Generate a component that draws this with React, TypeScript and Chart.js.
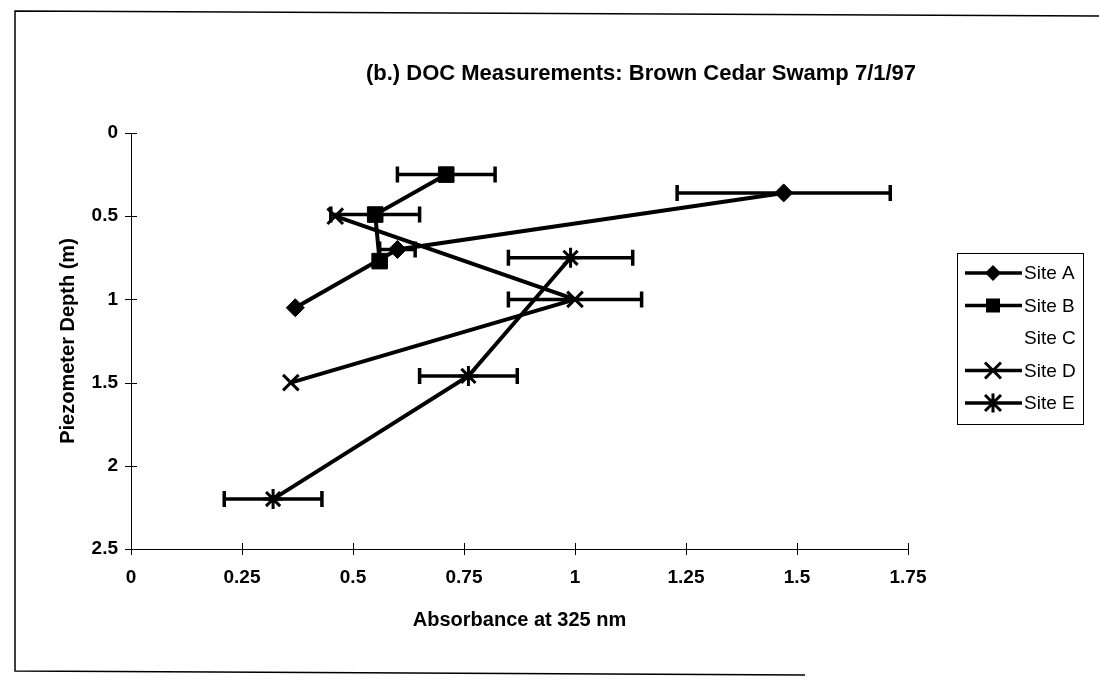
import React, { useEffect, useRef } from 'react';
import { Chart, registerables } from 'chart.js';

Chart.register(...registerables);

const FONT = '"Liberation Sans", Arial, Helvetica, sans-serif';

const chartTitle = '(b.) DOC Measurements: Brown Cedar Swamp 7/1/97';
const xAxisTitle = 'Absorbance at 325 nm';
const yAxisTitle = 'Piezometer Depth (m)';

const xTickValues = [0, 0.25, 0.5, 0.75, 1, 1.25, 1.5, 1.75];
const xTickLabels = ['0', '0.25', '0.5', '0.75', '1', '1.25', '1.5', '1.75'];
const yTickValues = [0, 0.5, 1, 1.5, 2, 2.5];
const yTickLabels = ['0', '0.5', '1', '1.5', '2', '2.5'];

const siteNames = ['Site A', 'Site B', 'Site C', 'Site D', 'Site E'];
const siteMarkers = ['rectRot', 'rect', 'none', 'crossRot', 'star'];

// absorbance (x), depth (y), horizontal error (±)
const siteAX = [1.47, 0.6, 0.37];
const siteAY = [0.36, 0.7, 1.05];
const siteAErr = [0.24, 0.04, 0];

const siteBX = [0.71, 0.55, 0.56];
const siteBY = [0.25, 0.49, 0.77];
const siteBErr = [0.11, 0.1, 0];

const siteCX: number[] = [];
const siteCY: number[] = [];
const siteCErr: number[] = [];

const siteDX = [0.46, 1.0, 0.36];
const siteDY = [0.5, 1.0, 1.5];
const siteDErr = [0, 0.15, 0];

const siteEX = [0.99, 0.76, 0.32];
const siteEY = [0.75, 1.46, 2.2];
const siteEErr = [0.14, 0.11, 0.11];

const allX = [siteAX, siteBX, siteCX, siteDX, siteEX];
const allY = [siteAY, siteBY, siteCY, siteDY, siteEY];
const allErr = [siteAErr, siteBErr, siteCErr, siteDErr, siteEErr];

function labelFor(values: number[], labels: string[], v: number) {
  const i = values.findIndex((t) => Math.abs(t - v) < 1e-9);
  return i >= 0 ? labels[i] : '';
}

function drawMarker(ctx: CanvasRenderingContext2D, style: string, x: number, y: number, r: number) {
  ctx.save();
  ctx.fillStyle = '#000';
  ctx.strokeStyle = '#000';
  ctx.beginPath();
  if (style === 'rectRot') {
    ctx.moveTo(x, y - r);
    ctx.lineTo(x + r, y);
    ctx.lineTo(x, y + r);
    ctx.lineTo(x - r, y);
    ctx.closePath();
    ctx.fill();
  } else if (style === 'rect') {
    ctx.rect(x - r, y - r, 2 * r, 2 * r);
    ctx.fill();
  } else if (style === 'crossRot') {
    ctx.lineWidth = 3;
    ctx.moveTo(x - r, y - r);
    ctx.lineTo(x + r, y + r);
    ctx.moveTo(x + r, y - r);
    ctx.lineTo(x - r, y + r);
    ctx.stroke();
  } else if (style === 'star') {
    ctx.lineWidth = 3;
    ctx.moveTo(x - r, y - r);
    ctx.lineTo(x + r, y + r);
    ctx.moveTo(x + r, y - r);
    ctx.lineTo(x - r, y + r);
    ctx.moveTo(x, y - r * 1.2);
    ctx.lineTo(x, y + r * 1.2);
    ctx.stroke();
  }
  ctx.restore();
}

const framePlugin = {
  id: 'frame',
  beforeDraw(chart: any) {
    const ctx = chart.ctx as CanvasRenderingContext2D;
    ctx.save();
    ctx.strokeStyle = '#000';
    ctx.lineWidth = 1.5;
    ctx.beginPath();
    ctx.moveTo(1099, 16);
    ctx.lineTo(15, 11);
    ctx.lineTo(15, 671);
    ctx.lineTo(805, 675);
    ctx.stroke();
    ctx.restore();
  },
};

const errorBarPlugin = {
  id: 'errorBars',
  beforeDatasetsDraw(chart: any) {
    const ctx = chart.ctx as CanvasRenderingContext2D;
    const xs = chart.scales.x;
    const ys = chart.scales.y;
    ctx.save();
    ctx.strokeStyle = '#000';
    ctx.lineWidth = 3.5;
    chart.data.datasets.forEach((ds: any) => {
      const errs: number[] = ds.errorX || [];
      ds.data.forEach((p: any, j: number) => {
        const e = errs[j];
        if (!e) return;
        const py = ys.getPixelForValue(p.y);
        const x1 = xs.getPixelForValue(p.x - e);
        const x2 = xs.getPixelForValue(p.x + e);
        ctx.beginPath();
        ctx.moveTo(x1, py);
        ctx.lineTo(x2, py);
        ctx.moveTo(x1, py - 8);
        ctx.lineTo(x1, py + 8);
        ctx.moveTo(x2, py - 8);
        ctx.lineTo(x2, py + 8);
        ctx.stroke();
      });
    });
    ctx.restore();
  },
};

const crossTickPlugin = {
  id: 'crossTicks',
  afterDraw(chart: any) {
    const ctx = chart.ctx as CanvasRenderingContext2D;
    const xs = chart.scales.x;
    const ys = chart.scales.y;
    const area = chart.chartArea;
    ctx.save();
    ctx.strokeStyle = '#000';
    ctx.lineWidth = 1;
    ctx.beginPath();
    xs.ticks.forEach((t: any) => {
      const px = Math.round(xs.getPixelForValue(t.value)) + 0.5;
      ctx.moveTo(px, area.bottom - 6);
      ctx.lineTo(px, area.bottom + 6);
    });
    ys.ticks.forEach((t: any) => {
      const py = Math.round(ys.getPixelForValue(t.value)) + 0.5;
      ctx.moveTo(area.left - 6, py);
      ctx.lineTo(area.left + 6, py);
    });
    ctx.stroke();
    ctx.restore();
  },
};

const titleLegendPlugin = {
  id: 'titleLegend',
  afterDraw(chart: any) {
    const ctx = chart.ctx as CanvasRenderingContext2D;
    ctx.save();
    ctx.fillStyle = '#000';
    ctx.font = `bold 22px ${FONT}`;
    ctx.textAlign = 'center';
    ctx.textBaseline = 'middle';
    ctx.fillText(chartTitle, 641, 74);

    // legend box
    const bx = 957, by = 253, bw = 126, bh = 171;
    ctx.strokeStyle = '#000';
    ctx.lineWidth = 1;
    ctx.strokeRect(bx + 0.5, by + 0.5, bw, bh);
    ctx.font = `19px ${FONT}`;
    ctx.textAlign = 'left';
    chart.data.datasets.forEach((ds: any, i: number) => {
      const y = 273 + i * 32.5;
      const marker = ds.marker as string;
      if (marker !== 'none') {
        ctx.beginPath();
        ctx.lineWidth = 3.5;
        ctx.moveTo(965, y);
        ctx.lineTo(1022, y);
        ctx.stroke();
        drawMarker(ctx, marker, 993, y, marker === 'rect' ? 7 : 8);
      }
      ctx.fillStyle = '#000';
      ctx.fillText(ds.label, 1024, y + 1);
    });
    ctx.restore();
  },
};

export default function App() {
  const canvasRef = useRef<HTMLCanvasElement | null>(null);

  useEffect(() => {
    if (!canvasRef.current) return;
    const radii: Record<string, number> = { rectRot: 9, rect: 11, crossRot: 11, star: 10, none: 0 };
    const datasets = siteNames.map((name, i) => ({
      label: name,
      marker: siteMarkers[i],
      errorX: allErr[i],
      data: allX[i].map((x, j) => ({ x, y: allY[i][j] })),
      showLine: true,
      borderColor: '#000',
      backgroundColor: '#000',
      borderWidth: 4,
      pointStyle: siteMarkers[i] === 'none' ? false : siteMarkers[i],
      pointRadius: radii[siteMarkers[i]],
      pointBorderWidth: siteMarkers[i] === 'crossRot' || siteMarkers[i] === 'star' ? 3 : 1,
      pointBackgroundColor: '#000',
      pointBorderColor: '#000',
    }));

    const chart = new Chart(canvasRef.current, {
      type: 'scatter',
      data: { datasets } as any,
      options: {
        animation: false,
        responsive: false,
        devicePixelRatio: 1,
        layout: { padding: { left: 0, top: 133, right: 191, bottom: 32 } },
        plugins: {
          legend: { display: false },
          title: { display: false },
          tooltip: { enabled: false },
        },
        scales: {
          x: {
            type: 'linear',
            min: 0,
            max: 1.75,
            afterFit: (s: any) => { s.height = 100; },
            afterBuildTicks: (s: any) => { s.ticks = xTickValues.map((v) => ({ value: v })); },
            grid: { display: false, drawTicks: false },
            border: { display: true, color: '#000', width: 1 },
            ticks: {
              padding: 17,
              color: '#000',
              font: { family: FONT, size: 19, weight: 'bold' },
              callback: (v: any) => labelFor(xTickValues, xTickLabels, Number(v)),
              maxRotation: 0,
              autoSkip: false,
            },
            title: {
              display: true,
              text: xAxisTitle,
              color: '#000',
              font: { family: FONT, size: 20, weight: 'bold' },
              padding: { top: 0, bottom: 17 },
            },
          },
          y: {
            type: 'linear',
            reverse: true,
            min: 0,
            max: 2.5,
            afterFit: (s: any) => { s.width = 131; },
            afterBuildTicks: (s: any) => { s.ticks = yTickValues.map((v) => ({ value: v })); },
            grid: { display: false, drawTicks: false },
            border: { display: true, color: '#000', width: 1 },
            ticks: {
              padding: 13,
              color: '#000',
              font: { family: FONT, size: 19, weight: 'bold' },
              callback: (v: any) => labelFor(yTickValues, yTickLabels, Number(v)),
              autoSkip: false,
            },
            title: {
              display: true,
              text: yAxisTitle,
              color: '#000',
              font: { family: FONT, size: 20, weight: 'bold' },
              padding: { top: 56, bottom: 0 },
            },
          },
        },
      },
      plugins: [framePlugin, errorBarPlugin, crossTickPlugin, titleLegendPlugin],
    });
    return () => chart.destroy();
  }, []);

  return (
    <div style={{ position: 'absolute', left: 0, top: 0, width: 1099, height: 681, background: '#fff' }}>
      <canvas ref={canvasRef} width={1099} height={681} style={{ width: 1099, height: 681, display: 'block' }} />
    </div>
  );
}
